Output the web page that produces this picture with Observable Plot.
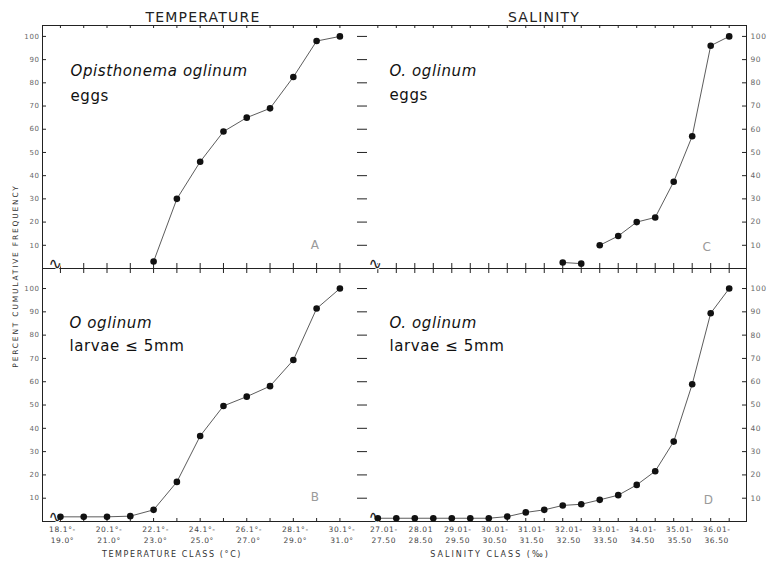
<!DOCTYPE html>
<html><head><meta charset="utf-8">
<script src="https://cdn.jsdelivr.net/npm/d3@7"></script>
<script src="https://cdn.jsdelivr.net/npm/@observablehq/plot@0.6"></script>
<style>
body{margin:0;background:#fff;}
#fig{position:relative;width:767px;height:562px;background:#fff;font-family:"DejaVu Sans",sans-serif;color:#222;overflow:hidden}
.panel{position:absolute}
.lbl{position:absolute;white-space:nowrap;line-height:1}
</style></head><body>
<div id="fig">
  <div class="lbl" style="left:42px;width:322px;top:10px;text-align:center;font-size:14px;letter-spacing:1.2px">TEMPERATURE</div>
  <div class="lbl" style="left:444px;width:200px;top:10px;text-align:center;font-size:14px;letter-spacing:1.2px">SALINITY</div>
  <div class="lbl" style="left:16px;top:276px;font-size:7.5px;letter-spacing:1.8px;color:#333;transform:translate(-50%,-50%) rotate(-90deg)">PERCENT CUMULATIVE FREQUENCY</div>
  <div class="lbl" style="left:172px;top:555px;font-size:8px;letter-spacing:1.6px;color:#333;transform:translate(-50%,-50%)">TEMPERATURE CLASS (°C)</div>
  <div class="lbl" style="left:490px;top:555px;font-size:8px;letter-spacing:2px;color:#333;transform:translate(-50%,-50%)">SALINITY CLASS (‰)</div>
</div>
<script>
// ---- data ----
const tempClasses = [18.1, 19.1, 20.1, 21.1, 22.1, 23.1, 24.1, 25.1, 26.1, 27.1, 28.1, 29.1, 30.1];
const tempLabelClasses = [18.1, 20.1, 22.1, 24.1, 26.1, 28.1, 30.1];
const tempTickLabels = ["18.1°-\n19.0°", "20.1°-\n21.0°", "22.1°-\n23.0°", "24.1°-\n25.0°", "26.1°-\n27.0°", "28.1°-\n29.0°", "30.1°-\n31.0°"];
const tempEggs = [null, null, null, null, 3, 30, 46, 59, 65, 69, 82.5, 98, 100];
const tempLarvae = [2, 2, 2, 2.3, 5, 17, 36.7, 49.6, 53.6, 58.1, 69.3, 91.4, 100];

const salClasses = [27.01, 27.51, 28.01, 28.51, 29.01, 29.51, 30.01, 30.51, 31.01, 31.51, 32.01, 32.51, 33.01, 33.51, 34.01, 34.51, 35.01, 35.51, 36.01, 36.51];
const salLabelClasses = [27.01, 28.01, 29.01, 30.01, 31.01, 32.01, 33.01, 34.01, 35.01, 36.01];
const salTickLabels = ["27.01-\n27.50", "28.01\n28.50", "29.01-\n29.50", "30.01-\n30.50", "31.01-\n31.50", "32.01-\n32.50", "33.01-\n33.50", "34.01-\n34.50", "35.01-\n35.50", "36.01-\n36.50"];
const salEggs = [null, null, null, null, null, null, null, null, null, null, 2.6, 2.1, 10, 14, 20, 22, 37.4, 57, 96, 100];
const salEggsBreakAfter = 32.51;
const salLarvae = [1.4, 1.4, 1.4, 1.4, 1.4, 1.4, 1.4, 2.1, 3.9, 5, 6.9, 7.4, 9.3, 11.3, 15.7, 21.6, 34.3, 58.9, 89.4, 100];

const yTicks = [10, 20, 30, 40, 50, 60, 70, 80, 90, 100];

const panels = [
  {classes: tempClasses, values: tempEggs, xDomain: [17.33, 31.07], yDomain: [0, 104.7],
   left: 0, top: 0, width: 362, height: 268, mL: 42, mR: 0, mT: 25, mB: 0,
   side: "left", row: "top", name: "Opisthonema oglinum", stage: "eggs", letter: "A",
   nameDx: 28, nameDy: 40, stageDy: 65, letterDx: -43, letterDy: -20},
  {classes: salClasses, values: salEggs, breakAfter: salEggsBreakAfter, xDomain: [26.596, 36.978], yDomain: [0, 104.7],
   left: 362, top: 0, width: 405, height: 268, mL: 0, mR: 21, mT: 25, mB: 0,
   side: "right", row: "top", name: "O. oglinum", stage: "eggs", letter: "C",
   nameDx: 27, nameDy: 40, stageDy: 64, letterDx: -35, letterDy: -18},
  {classes: tempClasses, values: tempLarvae, xDomain: [17.33, 31.07], yDomain: [0, 108.6],
   left: 0, top: 268, width: 362, height: 294, mL: 42, mR: 0, mT: 0, mB: 41,
   side: "left", row: "bottom", name: "O oglinum", stage: "larvae ≤ 5mm", letter: "B",
   labelClasses: tempLabelClasses, tickLabels: tempTickLabels, labelDx: 2,
   nameDx: 27, nameDy: 49, stageDy: 72, letterDx: -43, letterDy: -21},
  {classes: salClasses, values: salLarvae, xDomain: [26.596, 36.978], yDomain: [0, 108.6],
   left: 362, top: 268, width: 405, height: 294, mL: 0, mR: 21, mT: 0, mB: 41,
   side: "right", row: "bottom", name: "O. oglinum", stage: "larvae ≤ 5mm", letter: "D",
   labelClasses: salLabelClasses, tickLabels: salTickLabels, labelDx: 6,
   nameDx: 27, nameDy: 49, stageDy: 72, letterDx: -33, letterDy: -18}
];

const fig = document.getElementById("fig");
const INK = "#222", LINE = "#4a4a4a", TICKTXT = "#666";

for (const p of panels) {
  const W = p.width - p.mL - p.mR, H = p.height - p.mT - p.mB;
  const data = p.classes.map((c, i) => ({c, v: p.values[i], s: p.breakAfter != null && c > p.breakAfter ? 1 : 0}))
    .filter(d => d.v != null);
  const marks = [];
  // frame edges (the middle vertical divider is only a row of crosses)
  const edges = [p.side, "bottom"];
  if (p.row === "top") edges.push("top");
  for (const a of edges) marks.push(Plot.frame({anchor: a, stroke: INK, strokeWidth: 1}));

  // x ticks on the frame edges
  if (p.row === "top") {
    marks.push(Plot.tickX(p.classes, {x: d => d, insetBottom: H - 3, stroke: INK}));
    marks.push(Plot.tickX(p.classes, {x: d => d, insetTop: H - 5, insetBottom: -5, stroke: INK}));
  } else {
    marks.push(Plot.tickX(p.classes, {x: d => d, insetTop: H - 3, stroke: INK}));
    marks.push(Plot.axisX({anchor: "bottom", ticks: p.labelClasses, tickSize: 0, tickPadding: 3, dx: p.labelDx,
      tickFormat: d => p.tickLabels[p.labelClasses.indexOf(d)], fontSize: 7.5, lineHeight: 1.45, fill: "#444", label: null}));
  }
  // y ticks on the frame edges
  if (p.side === "left") {
    marks.push(Plot.tickY(yTicks, {y: d => d, insetRight: W - 4, stroke: INK}));
    marks.push(Plot.axisY({anchor: "left", ticks: yTicks, tickSize: 0, tickPadding: 3, fontSize: 7, fill: TICKTXT, label: null}));
    marks.push(Plot.tickY(yTicks, {y: d => d, insetLeft: W - 5, insetRight: -5, stroke: INK}));
  } else {
    marks.push(Plot.tickY(yTicks, {y: d => d, insetLeft: W - 4, insetRight: -1, stroke: INK}));
    marks.push(Plot.axisY({anchor: "right", ticks: yTicks, tickSize: 0, tickPadding: 4, fontSize: 7.5, fill: TICKTXT, label: null}));
  }
  // axis-break squiggle at the start of the baseline
  marks.push(Plot.text(["∿"], {frameAnchor: "bottom-left", dx: 6, dy: 0, fontSize: 16, fill: INK,
    stroke: "white", strokeWidth: 2}));
  // data
  marks.push(Plot.line(data, {x: "c", y: "v", z: "s", stroke: LINE, strokeWidth: 0.9}));
  marks.push(Plot.dot(data, {x: "c", y: "v", r: 3.3, fill: "#111", stroke: "none"}));
  // annotations
  marks.push(Plot.text([p.name], {frameAnchor: "top-left", dx: p.nameDx, dy: p.nameDy, textAnchor: "start",
    fontSize: 15, fontStyle: p.name.startsWith("O") ? "italic" : "normal", fill: "#111"}));
  marks.push(Plot.text([p.stage], {frameAnchor: "top-left", dx: p.nameDx, dy: p.stageDy, textAnchor: "start",
    fontSize: 15, fill: "#111"}));
  marks.push(Plot.text([p.letter], {frameAnchor: "bottom-right", dx: p.letterDx, dy: p.letterDy,
    fontSize: 12, fill: "#9a9a9a"}));

  const chart = Plot.plot({
    width: p.width, height: p.height,
    marginLeft: p.mL, marginRight: p.mR, marginTop: p.mT, marginBottom: p.mB,
    x: {type: "linear", domain: p.xDomain, axis: null},
    y: {type: "linear", domain: p.yDomain, axis: null},
    style: {background: "none", overflow: "visible", fontFamily: "DejaVu Sans", letterSpacing: "0.6px", color: INK},
    marks
  });
  const wrap = document.createElement("div");
  wrap.className = "panel";
  wrap.style.left = p.left + "px";
  wrap.style.top = p.top + "px";
  wrap.appendChild(chart);
  fig.appendChild(wrap);
}
</script>
</body></html>
